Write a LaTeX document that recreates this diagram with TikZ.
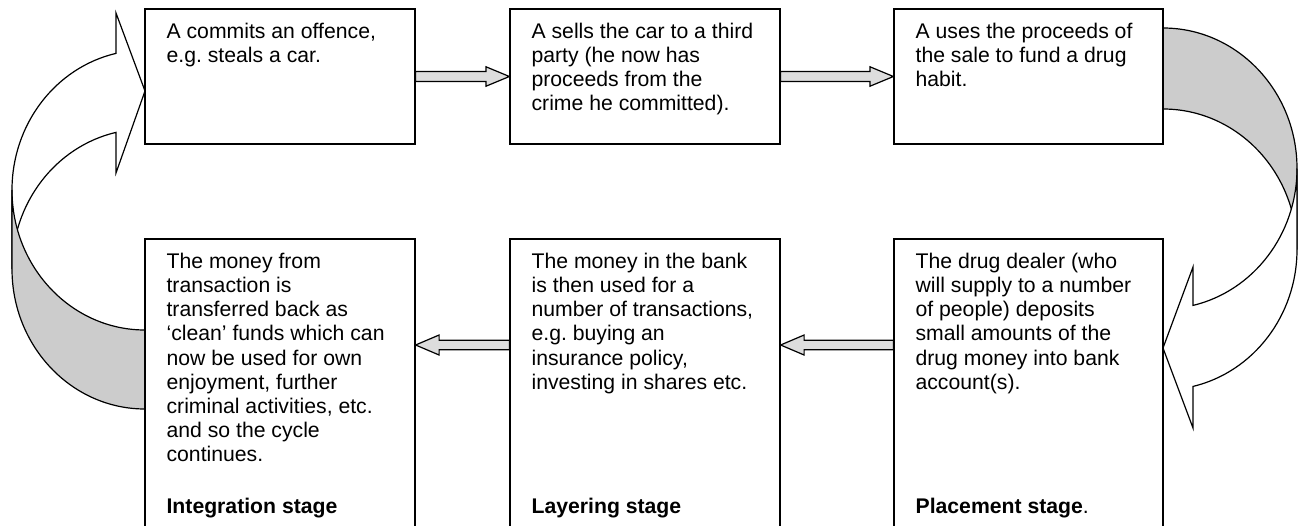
\documentclass[tikz,border=0pt]{standalone}
\usepackage{fontspec}
\setmainfont{Liberation Sans}
\usetikzlibrary{calc}
\frenchspacing
\definecolor{bandgrey}{HTML}{CCCCCC}
\definecolor{arrowgrey}{HTML}{DDDDDD}
\tikzset{
  box/.style={draw=black, line width=1.2pt, fill=white, inner sep=0pt},
  txt/.style={inner sep=0pt, anchor=north west, align=left, font=\fontsize{21.2}{24.2}\selectfont},
  lbl/.style={inner sep=0pt, anchor=base west, font=\fontsize{21.2}{24.2}\selectfont},
  blk/.style={draw=black, line width=1.2pt, fill=arrowgrey, line join=miter},
  band/.style={draw=black, line width=1.2pt, line join=miter},
}
\begin{document}
\begin{tikzpicture}[x=1pt,y=1pt]
\useasboundingbox (0,0) rectangle (1298,-525);
\clip (0,0) rectangle (1298,-525);

% curved arrows (drawn first)
% left: white upper face
\draw[band, fill=white] ($(145,-190)+(102.6:133 and 140)$)
  arc[start angle=102.6, end angle=180, x radius=133, y radius=140]
  -- (12,-269)
  arc[start angle=180, end angle=102.6, x radius=133, y radius=140]
  -- (116,-173) -- (145,-91) -- (116,-13) -- cycle;
% left: grey lower face
\draw[band, fill=bandgrey] (12,-190)
  arc[start angle=180, end angle=270, x radius=133, y radius=140]
  -- (145,-409)
  arc[start angle=270, end angle=180, x radius=133, y radius=140]
  -- cycle;
% right: grey upper face
\draw[band, fill=bandgrey] (1163,-28)
  arc[start angle=90, end angle=0, x radius=134, y radius=140.5]
  -- (1297,-249.5)
  arc[start angle=0, end angle=90, x radius=134, y radius=140.5]
  -- cycle;
% right: white lower face
\draw[band, fill=white] (1297,-168.5)
  arc[start angle=0, end angle=-77.06, x radius=134, y radius=140.5]
  -- (1193,-267) -- (1163,-348) -- (1193,-428)
  -- ($(1163,-249.5)+(-77.06:134 and 140.5)$)
  arc[start angle=-77.06, end angle=0, x radius=134, y radius=140.5]
  -- cycle;

% boxes
\node[box, minimum width=270pt, minimum height=135pt] (b1) at (280,-76.5) {};
\node[box, minimum width=270pt, minimum height=135pt] (b2) at (645,-76.5) {};
\node[box, minimum width=269pt, minimum height=135pt] (b3) at (1028.5,-76.5) {};
\node[box, minimum width=270pt, minimum height=321pt] (b4) at (280,-399.5) {};
\node[box, minimum width=270pt, minimum height=321pt] (b5) at (645,-399.5) {};
\node[box, minimum width=269pt, minimum height=321pt] (b6) at (1028.5,-399.5) {};

% texts
\node[txt] (t1) at ($(b1.north west)+(22,-12.85)$) {\strut A commits an offence,\\e.g. steals a car.};
\node[txt] (t2) at ($(b2.north west)+(22,-12.85)$) {\strut A sells the car to a third\\party (he now has\\proceeds from the\\crime he committed).};
\node[txt] (t3) at ($(b3.north west)+(22,-12.85)$) {\strut A uses the proceeds of\\the sale to fund a drug\\habit.};
\node[txt] (t4) at ($(b4.north west)+(22,-12.85)$) {\strut The money from\\transaction is\\transferred back as\\‘clean’ funds which can\\now be used for own\\enjoyment, further\\criminal activities, etc.\\and so the cycle\\continues.};
\node[txt] (t5) at ($(b5.north west)+(22,-12.85)$) {\strut The money in the bank\\is then used for a\\number of transactions,\\e.g. buying an\\insurance policy,\\investing in shares etc.};
\node[txt] (t6) at ($(b6.north west)+(22,-12.85)$) {\strut The drug dealer (who\\will supply to a number\\of people) deposits\\small amounts of the\\drug money into bank\\account(s).};

\coordinate (labely) at (0,-513);
\node[lbl] (l4) at ($(b4.north west |- labely)+(22,0)$) {\textbf{Integration stage}};
\node[lbl] (l5) at ($(b5.north west |- labely)+(22,0)$) {\textbf{Layering stage}};
\node[lbl] (l6) at ($(b6.north west |- labely)+(22,0)$) {\textbf{Placement stage}.};

% block arrows
\draw[blk] let \p1=(b1.east), \p2=(b2.west) in
  (\x1,\y1+5pt) -- (\x2-23.5pt,\y1+5pt) -- (\x2-23.5pt,\y1+9.75pt) -- (\x2,\y1)
  -- (\x2-23.5pt,\y1-9.75pt) -- (\x2-23.5pt,\y1-5pt) -- (\x1,\y1-5pt) -- cycle;
\draw[blk] let \p1=(b2.east), \p2=(b3.west) in
  (\x1,\y1+5pt) -- (\x2-23.5pt,\y1+5pt) -- (\x2-23.5pt,\y1+9.75pt) -- (\x2,\y1)
  -- (\x2-23.5pt,\y1-9.75pt) -- (\x2-23.5pt,\y1-5pt) -- (\x1,\y1-5pt) -- cycle;
\coordinate (arry) at (0,-345);
\draw[blk] let \p1=(b6.west |- arry), \p2=(b5.east |- arry) in
  (\x1,\y1+4.75pt) -- (\x2+23.5pt,\y1+4.75pt) -- (\x2+23.5pt,\y1+10pt) -- (\x2,\y1)
  -- (\x2+23.5pt,\y1-10pt) -- (\x2+23.5pt,\y1-4.75pt) -- (\x1,\y1-4.75pt) -- cycle;
\draw[blk] let \p1=(b5.west |- arry), \p2=(b4.east |- arry) in
  (\x1,\y1+4.75pt) -- (\x2+23.5pt,\y1+4.75pt) -- (\x2+23.5pt,\y1+10pt) -- (\x2,\y1)
  -- (\x2+23.5pt,\y1-10pt) -- (\x2+23.5pt,\y1-4.75pt) -- (\x1,\y1-4.75pt) -- cycle;
\end{tikzpicture}
\end{document}
